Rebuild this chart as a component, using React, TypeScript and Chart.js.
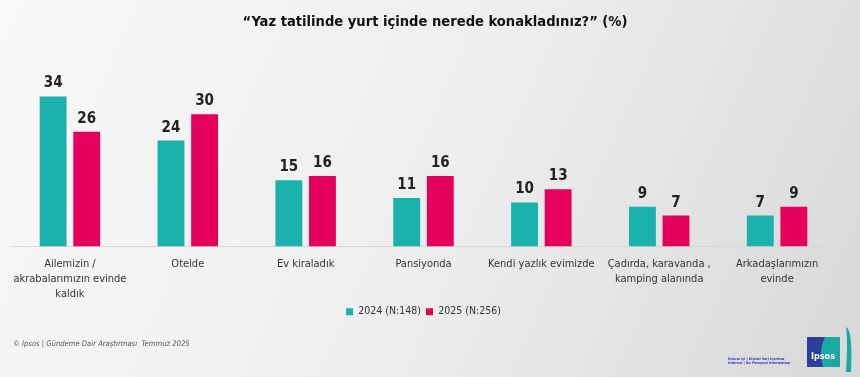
import React, { useEffect, useRef } from "react";
import { Chart, registerables } from "chart.js";

Chart.register(...registerables);

const TITLE = "“Yaz tatilinde yurt içinde nerede konakladınız?” (%)";
const CATEGORIES: string[][] = [
  ["Ailemizin /", "akrabalarımızın evinde", "kaldık"],
  ["Otelde"],
  ["Ev kiraladık"],
  ["Pansiyonda"],
  ["Kendi yazlık evimizde"],
  ["Çadırda, karavanda ,", "kamping alanında"],
  ["Arkadaşlarımızın", "evinde"],
];
const SERIES_2024 = [34, 24, 15, 11, 10, 9, 7];
const SERIES_2025 = [26, 30, 16, 16, 13, 7, 9];
const LABEL_2024 = "2024 (N:148)";
const LABEL_2025 = "2025 (N:256)";
const FOOTER = "© Ipsos | Gündeme Dair Araştırması  Temmuz 2025";
const CLASSIFICATION = ["Kurum İçi | Kişisel Veri İçermez", "Internal | No Personal Information"];

const TEAL = "#1bb1ad";
const PINK = "#e4005b";
const FONT = "'DejaVu Sans Condensed', 'Liberation Sans Narrow', Roboto, sans-serif";

export default function App() {
  const ref = useRef<HTMLCanvasElement | null>(null);

  useEffect(() => {
    if (!ref.current) return;
    const bgPlugin = {
      id: "bg",
      beforeDraw(chart: any) {
        const { ctx, width, height } = chart;
        ctx.save();
        const g = ctx.createLinearGradient(0, 0, width, height);
        g.addColorStop(0, "#f8f8f8");
        g.addColorStop(0.5, "#eeeeee");
        g.addColorStop(1, "#d8d8d8");
        ctx.fillStyle = g;
        ctx.fillRect(0, 0, width, height);
        ctx.restore();
      },
    };
    const valuePlugin = {
      id: "values",
      afterDatasetsDraw(chart: any) {
        const { ctx } = chart;
        ctx.save();
        ctx.font = `bold 15px ${FONT}`;
        ctx.fillStyle = "#222";
        ctx.textAlign = "center";
        ctx.textBaseline = "alphabetic";
        chart.data.datasets.forEach((ds: any, i: number) => {
          const meta = chart.getDatasetMeta(i);
          meta.data.forEach((el: any, j: number) => {
            ctx.fillText(String(ds.data[j]), el.x, el.y - 9);
          });
        });
        ctx.restore();
      },
    };
    const textPlugin = {
      id: "texts",
      afterDraw(chart: any) {
        const { ctx } = chart;
        ctx.save();
        // title
        ctx.fillStyle = "#111";
        ctx.font = `bold 14.6px ${FONT}`;
        ctx.textAlign = "center";
        ctx.textBaseline = "middle";
        ctx.fillText(TITLE, 435, 22);
        // footer
        ctx.fillStyle = "#555";
        ctx.font = `italic 7.6px ${FONT}`;
        ctx.textAlign = "left";
        ctx.fillText(FOOTER, 13, 344);
        ctx.fillStyle = "#3340c8";
        ctx.font = `bold 3.6px ${FONT}`;
        ctx.fillText(CLASSIFICATION[0], 728, 359);
        ctx.fillText(CLASSIFICATION[1], 728, 363);
        // logo
        ctx.fillStyle = "#1aa8a0";
        ctx.fillRect(807, 337, 33, 30);
        ctx.fillStyle = "#2d3e9a";
        ctx.beginPath();
        ctx.moveTo(807, 337);
        ctx.lineTo(825, 337);
        ctx.quadraticCurveTo(818, 350, 823, 367);
        ctx.lineTo(807, 367);
        ctx.closePath();
        ctx.fill();
        ctx.fillStyle = "#fff";
        ctx.font = `bold 9px ${FONT}`;
        ctx.textAlign = "center";
        ctx.fillText("Ipsos", 823, 357);
        ctx.fillStyle = "#1aa8a0";
        ctx.beginPath();
        ctx.moveTo(846, 327);
        ctx.quadraticCurveTo(853, 330, 851, 372);
        ctx.lineTo(846, 372);
        ctx.quadraticCurveTo(848, 340, 846, 327);
        ctx.closePath();
        ctx.fill();
        ctx.restore();
      },
    };

    const chart = new Chart(ref.current, {
      type: "bar",
      data: {
        labels: CATEGORIES,
        datasets: [
          { label: LABEL_2024, data: SERIES_2024, backgroundColor: TEAL, barPercentage: 0.8, categoryPercentage: 0.57 },
          { label: LABEL_2025, data: SERIES_2025, backgroundColor: PINK, barPercentage: 0.8, categoryPercentage: 0.57 },
        ],
      },
      options: {
        responsive: false,
        animation: false,
        layout: { padding: { left: 11, right: 24, top: 70, bottom: 50 } },
        plugins: {
          title: { display: false },
          legend: {
            position: "bottom",
            labels: {
              boxWidth: 7,
              boxHeight: 7,
              padding: 5,
              color: "#333",
              font: { family: FONT, size: 10.5 },
            },
          },
          tooltip: { enabled: false },
        },
        scales: {
          x: {
            grid: { display: false, drawTicks: false },
            border: { display: true, color: "#d6d6d6", width: 1 },
            ticks: {
              color: "#333",
              padding: 10,
              font: { family: FONT, size: 11, lineHeight: 15 / 11 },
              maxRotation: 0,
              autoSkip: false,
            },
            afterFit: (scale: any) => {
              scale.height = 55;
            },
          },
          y: {
            display: false,
            min: 0,
            max: 40,
          },
        },
      },
      plugins: [bgPlugin, valuePlugin, textPlugin],
    });
    return () => chart.destroy();
  }, []);

  return (
    <div style={{ position: "absolute", left: 0, top: 0, width: 860, height: 377 }}>
      <canvas ref={ref} width={860} height={377} style={{ display: "block" }} />
    </div>
  );
}
